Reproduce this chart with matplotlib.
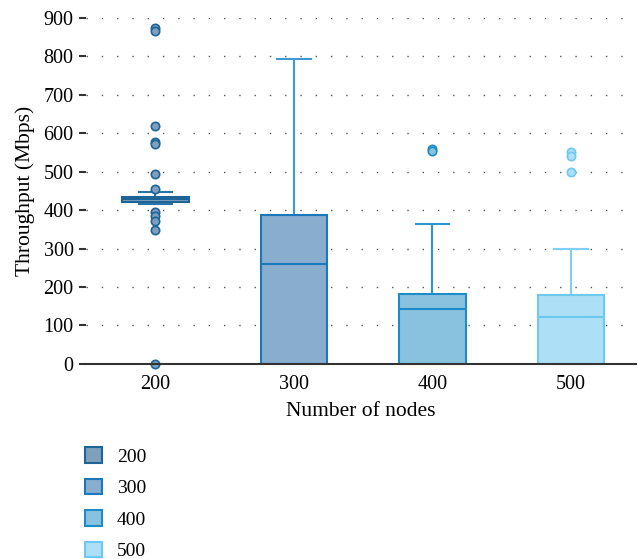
import matplotlib
matplotlib.use("Agg")
import matplotlib.pyplot as plt
from matplotlib.patches import Patch

plt.rcParams['font.family'] = ['Liberation Serif', 'DejaVu Serif']

categories = ["200", "300", "400", "500"]
q1 = [420, 0, 0, 0]
med = [428, 259, 143, 122]
q3 = [435, 388, 183, 178]
whislo = [415, 0, 0, 0]
whishi = [447, 793, 365, 300]
fliers = [
    [874, 866, 619, 578, 572, 494, 456, 395, 385, 373, 349, 0],
    [],
    [560, 553],
    [550, 540, 500],
]
face_colors = ["#7f9fbd", "#88adcf", "#89c2de", "#addff7"]
edge_colors = ["#1d6497", "#1a78bb", "#1b8cc8", "#6ec8f0"]
whisk_colors = ["#2a72a6", "#3d98d3", "#2a98d0", "#7fcff2"]

fig = plt.figure(figsize=(6.38, 5.59), dpi=100)
ax = fig.add_axes([0.135, 0.349, 0.862, 0.619])

pos = list(range(4))
for i in range(4):
    s = dict(label=categories[i], q1=q1[i], med=med[i], q3=q3[i],
             whislo=whislo[i], whishi=whishi[i], fliers=fliers[i])
    bp = ax.bxp([s], positions=[pos[i]], widths=0.48, patch_artist=True,
                showfliers=True, manage_ticks=False, capwidths=0.24,
                boxprops=dict(facecolor=face_colors[i], edgecolor=edge_colors[i], linewidth=1.5),
                medianprops=dict(color=edge_colors[i], linewidth=1.5),
                whiskerprops=dict(color=whisk_colors[i], linewidth=1.5),
                capprops=dict(color=whisk_colors[i], linewidth=1.5),
                flierprops=dict(marker='o', markerfacecolor=face_colors[i],
                                markeredgecolor=edge_colors[i], markersize=6,
                                markeredgewidth=1.2, linestyle='none'))
    for b in bp['boxes']:
        b.set_zorder(3)
    for m in bp['medians']:
        m.set_zorder(4)
    for c in bp['caps']:
        c.set_zorder(4)
    for f in bp['fliers']:
        f.set_zorder(5)
        f.set_clip_on(False)

ax.set_xlim(-0.5, 3.47)
ax.set_ylim(0, 900)
ax.set_xticks(pos)
ax.set_xticklabels(categories)
ax.set_yticks(range(0, 901, 100))
ax.yaxis.grid(True, linestyle=(0, (1, 10)), color='#555555', linewidth=1.0)
ax.set_axisbelow(True)
for sp in ['top', 'right', 'left']:
    ax.spines[sp].set_visible(False)
ax.spines['bottom'].set_color('#333333')
ax.spines['bottom'].set_linewidth(1.5)
ax.spines['bottom'].set_zorder(6)
ax.tick_params(axis='y', length=5, width=1.5, color='#333333', labelsize=14.5, pad=4)
ax.tick_params(axis='x', length=0, labelsize=14.5, pad=8)
ax.set_xlabel("Number of nodes", fontsize=15.5, labelpad=6)
ax.set_ylabel("Throughput (Mbps)", fontsize=15.5, labelpad=6)

handles = [Patch(facecolor=face_colors[i], edgecolor=edge_colors[i], linewidth=1.5, label=categories[i])
           for i in range(4)]
fig.legend(handles=handles, loc='upper left', bbox_to_anchor=(0.121, 0.214),
           frameon=False, fontsize=14, handlelength=0.85, handleheight=0.85,
           labelspacing=0.67, handletextpad=0.8, borderaxespad=0)

fig.savefig("out.png", dpi=100)
